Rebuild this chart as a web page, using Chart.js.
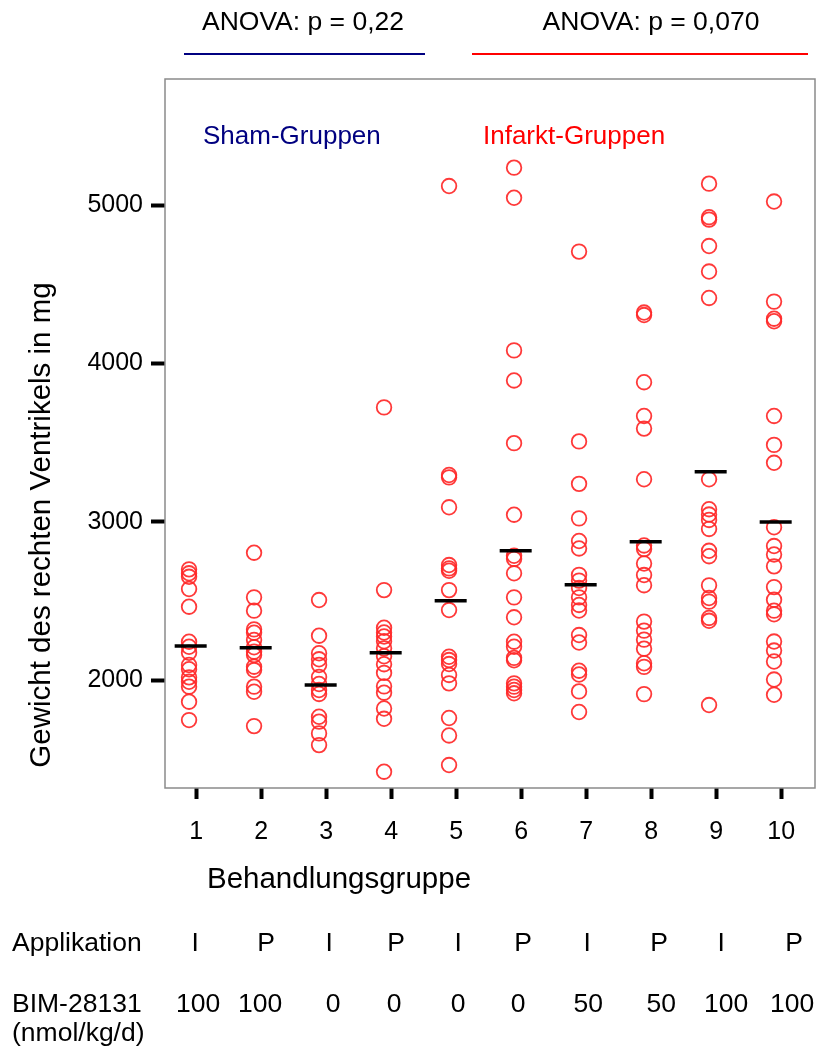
<!DOCTYPE html>
<html>
<head>
<meta charset="utf-8">
<script src="https://cdn.jsdelivr.net/npm/chart.js@4/dist/chart.umd.min.js"></script>
<style>
  body { margin: 0; background: #fff; }
  #wrap { width: 817px; height: 1050px; }
</style>
</head>
<body>
<div id="wrap"><canvas id="myChart" width="817" height="1050"></canvas></div>
<script>
// Behandlungsgruppen 1-10
const gruppen = [1, 2, 3, 4, 5, 6, 7, 8, 9, 10];

// Gewicht des rechten Ventrikels (mg), Einzeltiere je Gruppe
const gruppe1 = [2699, 2674, 2652, 2575, 2463, 2242, 2210, 2172, 2095, 2068, 2017, 1989, 1958, 1863, 1747];
const gruppe2 = [2804, 2522, 2438, 2320, 2299, 2253, 2207, 2179, 2158, 2084, 2063, 1958, 1926, 1709];
const gruppe3 = [2505, 2280, 2169, 2131, 2095, 2019, 1975, 1937, 1912, 1768, 1737, 1663, 1589];
const gruppe4 = [3722, 2568, 2330, 2300, 2275, 2245, 2200, 2150, 2100, 2045, 1960, 1920, 1820, 1755, 1421];
const gruppe5 = [5120, 3295, 3280, 3091, 2726, 2705, 2690, 2568, 2442, 2147, 2126, 2101, 2032, 1979, 1760, 1650, 1463];
const gruppe6 = [5236, 5046, 4082, 3892, 3496, 3044, 2785, 2765, 2674, 2522, 2396, 2242, 2210, 2140, 2125, 1979, 1958, 1937, 1916];
const gruppe7 = [4706, 3507, 3239, 3021, 2878, 2831, 2664, 2628, 2581, 2522, 2474, 2439, 2284, 2237, 2059, 2035, 1928, 1798];
const gruppe8 = [4321, 4305, 3881, 3668, 3588, 3268, 2850, 2827, 2736, 2663, 2599, 2369, 2312, 2255, 2198, 2106, 2083, 1911];
const gruppe9 = [5135, 4923, 4908, 4741, 4580, 4413, 3268, 3079, 3045, 3011, 2954, 2816, 2782, 2598, 2518, 2495, 2392, 2374, 1842];
const gruppe10 = [5022, 4390, 4282, 4266, 3668, 3485, 3372, 2965, 2846, 2793, 2718, 2587, 2507, 2438, 2415, 2243, 2186, 2117, 2003, 1907];
const alleGruppen = [gruppe1, gruppe2, gruppe3, gruppe4, gruppe5, gruppe6, gruppe7, gruppe8, gruppe9, gruppe10];

// Gruppenmittelwerte (schwarze Striche)
const mittelwerte = [2215, 2204, 1968, 2172, 2501, 2817, 2602, 2873, 3316, 2998];

const yTicks = [2000, 3000, 4000, 5000];
const anovaTexte = ['ANOVA: p = 0,22', 'ANOVA: p = 0,070'];
const applikation = ['I', 'P', 'I', 'P', 'I', 'P', 'I', 'P', 'I', 'P'];
const dosis = ['100', '100', '0', '0', '0', '0', '50', '50', '100', '100'];

const FONT = '"Liberation Sans", Arial, Helvetica, sans-serif';
const NAVY = '#000080';
const ROT = '#ff0000';

// points
var punkte = [];
for (let i = 0; i < alleGruppen.length; i++) {
    for (let j = 0; j < alleGruppen[i].length; j++) {
        punkte.push({ x: gruppen[i] - 0.11, y: alleGruppen[i][j] });
    }
}
var striche = mittelwerte.map((m, i) => ({ x: gruppen[i] - 0.085, y: m }));

const beschriftung = {
    id: 'beschriftung',
    beforeDatasetsDraw(chart) {
        const ctx = chart.ctx;
        const a = chart.chartArea;
        ctx.save();
        ctx.strokeStyle = '#8a8a8a';
        ctx.lineWidth = 1.5;
        ctx.strokeRect(a.left, a.top, a.right - a.left, a.bottom - a.top);
        ctx.restore();
    },
    afterDraw(chart) {
        const ctx = chart.ctx;
        const xs = chart.scales.x;
        ctx.save();
        ctx.fillStyle = '#000';
        ctx.textBaseline = 'middle';

        // ANOVA headers with coloured underline
        ctx.font = '26.5px ' + FONT;
        ctx.textAlign = 'center';
        ctx.fillText(anovaTexte[0], 303, 23);
        ctx.fillText(anovaTexte[1], 651, 23);
        ctx.lineWidth = 2;
        ctx.strokeStyle = NAVY;
        ctx.beginPath(); ctx.moveTo(184, 54); ctx.lineTo(425, 54); ctx.stroke();
        ctx.strokeStyle = ROT;
        ctx.beginPath(); ctx.moveTo(472, 54); ctx.lineTo(808, 54); ctx.stroke();

        // group labels inside the plot
        ctx.font = '26px ' + FONT;
        ctx.textAlign = 'left';
        ctx.fillStyle = NAVY;
        ctx.fillText('Sham-Gruppen', 203, 137);
        ctx.fillStyle = ROT;
        ctx.fillText('Infarkt-Gruppen', 483, 137);

        // axis titles
        ctx.fillStyle = '#000';
        ctx.font = '29.5px ' + FONT;
        ctx.textAlign = 'center';
        ctx.fillText('Behandlungsgruppe', 339, 880);
        ctx.save();
        ctx.translate(42, 525);
        ctx.rotate(-Math.PI / 2);
        ctx.fillText('Gewicht des rechten Ventrikels in mg', 0, 0);
        ctx.restore();

        // table below the chart
        const nudgeApp = [-1, 5, 3, 5, 2, 2, 1, 8, 5, 13];
        const nudgeDos = [2, -1, 7, 3, 2, -3, 2, 10, 10, 11];
        ctx.font = '26.5px ' + FONT;
        ctx.textAlign = 'left';
        ctx.fillText('Applikation', 12, 944);
        ctx.fillText('BIM-28131', 12, 1005);
        ctx.fillText('(nmol/kg/d)', 12, 1034);
        ctx.textAlign = 'center';
        for (let i = 0; i < gruppen.length; i++) {
            const px = xs.getPixelForValue(gruppen[i]);
            ctx.fillText(applikation[i], px + nudgeApp[i], 944);
            ctx.fillText(dosis[i], px + nudgeDos[i], 1005);
        }
        ctx.restore();
    }
};

var ctx = document.getElementById('myChart').getContext('2d');
window.myChart = new Chart(ctx, {
    type: 'scatter',
    data: {
        datasets: [{
            label: 'Mittelwert',
            data: striche,
            pointStyle: 'line',
            radius: 16,
            borderWidth: 3.5,
            borderColor: '#000',
            order: 0
        }, {
            label: 'Einzelwerte',
            data: punkte,
            pointStyle: 'circle',
            radius: 7.3,
            borderWidth: 1.8,
            borderColor: 'rgba(255, 40, 40, 0.92)',
            backgroundColor: 'rgba(0,0,0,0)',
            order: 1
        }]
    },
    options: {
        responsive: false,
        animation: false,
        events: [],
        layout: { autoPadding: false, padding: { left: 0, top: 79, right: 2, bottom: 0 } },
        plugins: { legend: { display: false }, tooltip: { enabled: false } },
        scales: {
            x: {
                type: 'linear',
                min: 0.52,
                max: 10.52,
                afterBuildTicks: s => { s.ticks = gruppen.map(v => ({ value: v })); },
                afterFit: s => { s.height = 262; },
                border: { display: false },
                grid: { drawOnChartArea: false, tickLength: 11, tickWidth: 4, tickColor: '#000' },
                ticks: { font: { family: FONT, size: 25 }, color: '#000', padding: 18, maxRotation: 0 }
            },
            y: {
                min: 1318,
                max: 5796,
                afterBuildTicks: s => { s.ticks = yTicks.map(v => ({ value: v })); },
                afterFit: s => { s.width = 165; },
                border: { display: false },
                grid: { drawOnChartArea: false, tickLength: 14, tickWidth: 4, tickColor: '#000' },
                ticks: { font: { family: FONT, size: 25 }, color: '#000', padding: 8, callback: v => String(v) }
            }
        }
    },
    plugins: [beschriftung]
});
</script>
</body>
</html>
